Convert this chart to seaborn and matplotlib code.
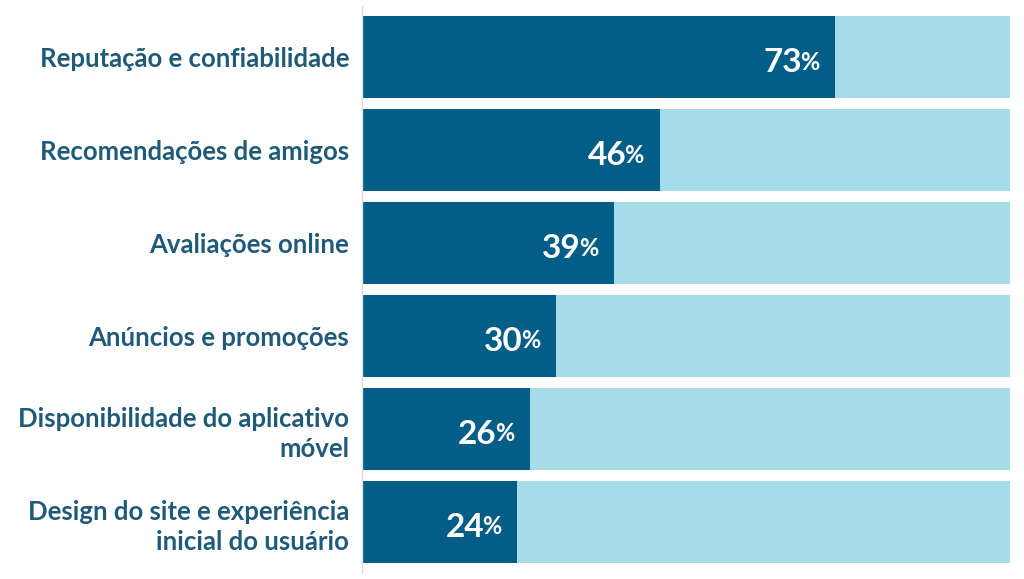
import matplotlib
matplotlib.use("Agg")
import matplotlib.pyplot as plt
import seaborn as sns
import pandas as pd

categories = [
    "Reputação e confiabilidade",
    "Recomendações de amigos",
    "Avaliações online",
    "Anúncios e promoções",
    "Disponibilidade do aplicativo\nmóvel",
    "Design do site e experiência\ninicial do usuário",
]
values = [73, 46, 39, 30, 26, 24]
totals = [100, 100, 100, 100, 100, 100]

DARK = "#035E87"
LIGHT = "#A6DCE8"
LABEL = "#1F5A78"

sns.set_theme(style="white")
plt.rcParams["font.family"] = ["Lato", "DejaVu Sans"]

df = pd.DataFrame({"cat": categories, "val": values, "tot": totals})

fig = plt.figure(figsize=(10.24, 5.79), dpi=100)
ax = fig.add_axes([361.5 / 1024, 6 / 579, (1010 - 361.5) / 1024, 567 / 579])

sns.barplot(data=df, x="tot", y="cat", color=LIGHT, width=0.89, ax=ax,
            saturation=1, orient="h", linewidth=0)
sns.barplot(data=df, x="val", y="cat", color=DARK, width=0.89, ax=ax,
            saturation=1, orient="h", linewidth=0)

ax.set_xlim(0, 100)
ax.set_ylim(5.55, -0.55)
ax.set_xlabel("")
ax.set_ylabel("")
ax.set_xticks([])
ax.tick_params(axis="y", length=0, pad=9)
for lab in ax.get_yticklabels():
    lab.set_fontsize(18.5)
    lab.set_fontweight("bold")
    lab.set_color(LABEL)
    lab.set_ha("right")
    lab.set_multialignment("right")
    lab.set_linespacing(1.3)

for s in ["top", "right", "bottom"]:
    ax.spines[s].set_visible(False)
ax.spines["left"].set_color("#DDDDDD")
ax.spines["left"].set_linewidth(1.0)

renderer = fig.canvas.get_renderer()
for i, v in enumerate(values):
    pct = ax.annotate("%", xy=(v, i), xytext=(-16, -3), textcoords="offset pixels",
                      ha="right", va="center_baseline", color="white",
                      fontsize=17, fontweight="bold")
    w = pct.get_window_extent(renderer).width
    ax.annotate(str(v), xy=(v, i), xytext=(-16 - w + 2, -3), textcoords="offset pixels",
                ha="right", va="center_baseline", color="white",
                fontsize=24, fontweight="bold")

fig.savefig("out.png", dpi=100, facecolor="white")
